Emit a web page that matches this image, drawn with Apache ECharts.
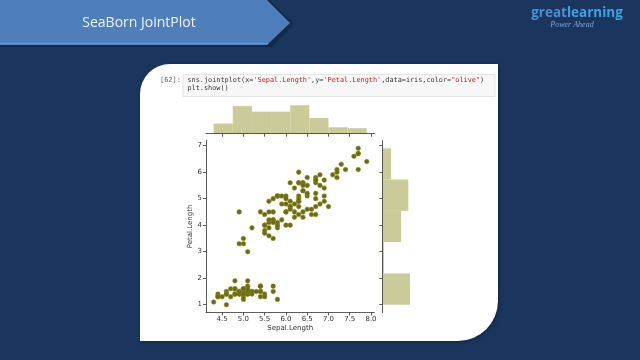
<!DOCTYPE html>
<html>
<head>
<meta charset="utf-8">
<script src="https://cdn.jsdelivr.net/npm/echarts@6/dist/echarts.min.js"></script>
<style>html,body{margin:0;padding:0;background:#1b365e;}#c{width:640px;height:360px;}</style>
</head>
<body>
<div id="c"></div>
<script>
// iris: Sepal.Length and Petal.Length (150 rows)
const sepalLength = [5.1,4.9,4.7,4.6,5.0,5.4,4.6,5.0,4.4,4.9,5.4,4.8,4.8,4.3,5.8,5.7,5.4,5.1,5.7,5.1,5.4,5.1,4.6,5.1,4.8,5.0,5.0,5.2,5.2,4.7,4.8,5.4,5.2,5.5,4.9,5.0,5.5,4.9,4.4,5.1,5.0,4.5,4.4,5.0,5.1,4.8,5.1,4.6,5.3,5.0,
7.0,6.4,6.9,5.5,6.5,5.7,6.3,4.9,6.6,5.2,5.0,5.9,6.0,6.1,5.6,6.7,5.6,5.8,6.2,5.6,5.9,6.1,6.3,6.1,6.4,6.6,6.8,6.7,6.0,5.7,5.5,5.5,5.8,6.0,5.4,6.0,6.7,6.3,5.6,5.5,5.5,6.1,5.8,5.0,5.6,5.7,5.7,6.2,5.1,5.7,
6.3,5.8,7.1,6.3,6.5,7.6,4.9,7.3,6.7,7.2,6.5,6.4,6.8,5.7,5.8,6.4,6.5,7.7,7.7,6.0,6.9,5.6,7.7,6.3,6.7,7.2,6.2,6.1,6.4,7.2,7.4,7.9,6.4,6.3,6.1,7.7,6.3,6.4,6.0,6.9,6.7,6.9,5.8,6.8,6.7,6.7,6.3,6.5,6.2,5.9];
const petalLength = [1.4,1.4,1.3,1.5,1.4,1.7,1.4,1.5,1.4,1.5,1.5,1.6,1.4,1.1,1.2,1.5,1.3,1.4,1.7,1.5,1.7,1.5,1.0,1.7,1.9,1.6,1.6,1.5,1.4,1.6,1.6,1.5,1.5,1.4,1.5,1.2,1.3,1.4,1.3,1.5,1.3,1.3,1.3,1.6,1.9,1.4,1.6,1.4,1.5,1.4,
4.7,4.5,4.9,4.0,4.6,4.5,4.7,3.3,4.6,3.9,3.5,4.2,4.0,4.7,3.6,4.4,4.5,4.1,4.5,3.9,4.8,4.0,4.9,4.7,4.3,4.4,4.8,5.0,4.5,3.5,3.8,3.7,3.9,5.1,4.5,4.5,4.7,4.4,4.1,4.0,4.4,4.6,4.0,3.3,4.2,4.2,4.2,4.3,3.0,4.1,
6.0,5.1,5.9,5.6,5.8,6.6,4.5,6.3,5.8,6.1,5.1,5.3,5.5,5.0,5.1,5.3,5.5,6.7,6.9,5.0,5.7,4.9,6.7,4.9,5.7,6.0,4.8,4.9,5.6,5.8,6.1,6.4,5.6,5.1,5.6,6.1,5.6,5.5,4.8,5.4,5.6,5.1,5.1,5.9,5.7,5.2,5.0,5.2,5.4,5.1];

// marginal histograms (counts per bin)
const sepalBinEdges = [4.3,4.75,5.2,5.65,6.1,6.55,7.0,7.45,7.9];
const sepalBinCounts = [11,30,24,24,31,17,7,6];
const petalBinEdges = [1.0,2.18,3.36,4.54,5.72,6.9];
const petalBinCounts = [50,3,34,47,16];

// tick labels
const xTicks = [4.5,5.0,5.5,6.0,6.5,7.0,7.5,8.0];
const yTicks = [1,2,3,4,5,6,7];

const xName = 'Sepal.Length';
const yName = 'Petal.Length';

const scatterData = sepalLength.map((v,i)=>[v, petalLength[i]]);
const topHist = sepalBinCounts.map((c,i)=>[sepalBinEdges[i], sepalBinEdges[i+1], c]);
const rightHist = petalBinCounts.map((c,i)=>[petalBinEdges[i], petalBinEdges[i+1], c]);

const XMIN = 4.12, XMAX = 8.08, YMIN = 0.705, YMAX = 7.195;
const histFill = '#cbcb9a';
const axCol = '#333';
const tickFont = {fontSize: 7, color: '#333', fontFamily: 'DejaVu Sans'};

const chart = echarts.init(document.getElementById('c'), null, {renderer: 'canvas'});

const mono = 'DejaVu Sans Mono';
const codeRich = {
  t: {fontFamily: mono, fontSize: 6.85, fill: '#333', color: '#333'},
  s: {fontFamily: mono, fontSize: 6.85, fill: '#ba2121', color: '#ba2121'}
};

chart.setOption({
  backgroundColor: '#1b365e',
  animation: false,
  graphic: [
    // banner shadow
    {type: 'polygon', z: -10, shape: {points: [[0,0],[270,0],[294,24],[272,47],[0,47]]}, style: {fill: '#142a4b'}},
    {type: 'polygon', z: -9, shape: {points: [[0,0],[267,0],[290,23],[267,45],[0,45]]}, style: {fill: '#4e7fbb'}},
    {type: 'line', z: -8, shape: {x1: 0, y1: 43.5, x2: 268, y2: 43.5}, style: {stroke: '#6b93c7', lineWidth: 1.5}},
    {type: 'text', z: -7, x: 139, y: 23, style: {text: 'SeaBorn JointPlot', fontFamily: 'Open Sans', fontSize: 14, fill: '#eef3fb', align: 'center', verticalAlign: 'middle'}},
    // logo
    {type: 'text', z: -7, x: 577, y: 13.5, style: {text: '{g|great}{l|learning}', align: 'center', verticalAlign: 'middle',
      rich: {g: {fontFamily: 'Open Sans', fontWeight: 'bold', fontSize: 13.5, fill: '#4a8fcf', color: '#4a8fcf'},
             l: {fontFamily: 'Open Sans', fontWeight: 'bold', fontSize: 13.5, fill: '#3fa3e6', color: '#3fa3e6'}}}},
    {type: 'text', z: -7, x: 572, y: 24.5, style: {text: 'Power Ahead', fontFamily: 'Liberation Serif', fontStyle: 'italic', fontSize: 8, fill: '#7fa5d2', align: 'center', verticalAlign: 'middle'}},
    // card
    {type: 'rect', z: -10, shape: {x: 140, y: 64, width: 358, height: 277, r: [30,0,40,0]},
      style: {fill: '#ffffff', shadowBlur: 4, shadowOffsetX: 1, shadowOffsetY: 1, shadowColor: 'rgba(0,0,0,0.35)'}},
    // code cell
    {type: 'rect', z: -9, shape: {x: 183, y: 74.5, width: 312, height: 22}, style: {fill: '#f7f7f7', stroke: '#dedede', lineWidth: 0.8}},
    {type: 'text', z: -8, x: 181, y: 80.5, style: {text: '[62]:', fontFamily: mono, fontSize: 7, fill: '#666', align: 'right', verticalAlign: 'middle'}},
    {type: 'text', z: -8, x: 187.5, y: 80.5, style: {
      text: "{t|sns.jointplot(x=}{s|'Sepal.Length'}{t|,y=}{s|'Petal.Length'}{t|,data=iris,color=}{s|\"olive\"}{t|)}",
      verticalAlign: 'middle', rich: codeRich}},
    {type: 'text', z: -8, x: 187.5, y: 88.5, style: {text: 'plt.show()', fontFamily: mono, fontSize: 6.85, fill: '#333', verticalAlign: 'middle'}}
  ],
  grid: [
    {left: 206, top: 140.5, width: 168.4, height: 172, containLabel: false},
    {left: 206, top: 103.8, width: 168.4, height: 29.9, containLabel: false},
    {left: 382.3, top: 140.5, width: 29.1, height: 172, containLabel: false}
  ],
  xAxis: [
    {gridIndex: 0, type: 'value', min: XMIN, max: XMAX, z: 5,
      axisLine: {show: true, onZero: false, lineStyle: {color: axCol, width: 0.8}},
      axisTick: {show: true, length: 3, customValues: xTicks, lineStyle: {color: axCol, width: 0.8}},
      axisLabel: {show: true, customValues: xTicks, margin: 3, formatter: v => v.toFixed(1), ...tickFont},
      splitLine: {show: false},
      name: xName, nameLocation: 'middle', nameGap: 12.5, nameTextStyle: {fontSize: 7, color: '#333', fontFamily: 'DejaVu Sans'}},
    {gridIndex: 1, type: 'value', min: XMIN, max: XMAX, z: 5,
      axisLine: {show: true, onZero: false, lineStyle: {color: axCol, width: 0.8}},
      axisTick: {show: true, length: 3, customValues: xTicks, lineStyle: {color: axCol, width: 0.8}},
      axisLabel: {show: false}, splitLine: {show: false}},
    {gridIndex: 2, type: 'value', min: 0, max: 52.5, show: false, splitLine: {show: false}}
  ],
  yAxis: [
    {gridIndex: 0, type: 'value', min: YMIN, max: YMAX, z: 5,
      axisLine: {show: true, onZero: false, lineStyle: {color: axCol, width: 0.8}},
      axisTick: {show: true, length: 3, customValues: yTicks, lineStyle: {color: axCol, width: 0.8}},
      axisLabel: {show: true, customValues: yTicks, margin: 4, ...tickFont},
      splitLine: {show: false},
      name: yName, nameLocation: 'middle', nameGap: 10, nameRotate: 90, nameTextStyle: {fontSize: 7, color: '#333', fontFamily: 'DejaVu Sans'}},
    {gridIndex: 1, type: 'value', min: 0, max: 32.55, show: false, splitLine: {show: false}},
    {gridIndex: 2, type: 'value', min: YMIN, max: YMAX, z: 5,
      axisLine: {show: true, onZero: false, lineStyle: {color: axCol, width: 0.8}},
      axisTick: {show: true, length: 3, customValues: yTicks, lineStyle: {color: axCol, width: 0.8}},
      axisLabel: {show: false}, splitLine: {show: false}}
  ],
  series: [
    {type: 'scatter', xAxisIndex: 0, yAxisIndex: 0, data: scatterData, symbolSize: 4.6,
      itemStyle: {color: '#6b6b14', borderColor: '#8a8a1a', borderWidth: 0.5, opacity: 1}, silent: true},
    {type: 'custom', xAxisIndex: 1, yAxisIndex: 1, data: topHist, silent: true,
      renderItem: function(params, api) {
        const p0 = api.coord([api.value(0), 0]);
        const p1 = api.coord([api.value(1), api.value(2)]);
        return {type: 'rect', shape: {x: p0[0], y: p1[1], width: p1[0]-p0[0], height: p0[1]-p1[1]}, style: {fill: histFill}};
      }},
    {type: 'custom', xAxisIndex: 2, yAxisIndex: 2, data: rightHist, silent: true,
      renderItem: function(params, api) {
        const p0 = api.coord([0, api.value(0)]);
        const p1 = api.coord([api.value(2), api.value(1)]);
        return {type: 'rect', shape: {x: p0[0], y: p1[1], width: p1[0]-p0[0], height: p0[1]-p1[1]}, style: {fill: histFill}};
      }}
  ]
});
</script>
</body>
</html>
